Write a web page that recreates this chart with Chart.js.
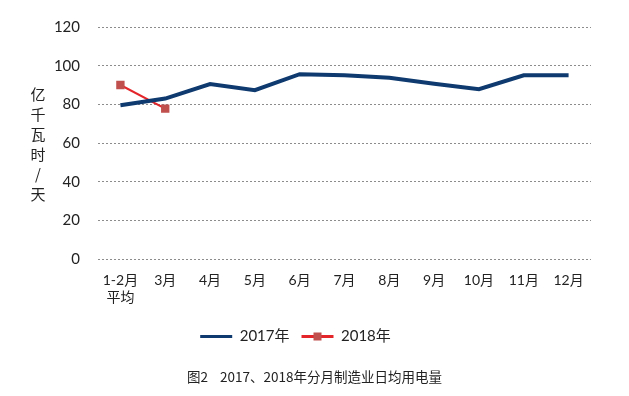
<!DOCTYPE html>
<html>
<head>
<meta charset="utf-8">
<script src="https://cdn.jsdelivr.net/npm/chart.js@4"></script>
<style>
    body { margin: 0; background: #fff; }
    #wrap { position: relative; width: 629px; height: 396px; }
    #caption {
        position: absolute; left: 0; width: 629px; top: 366px;
        text-align: center; font: 13.5px 'Noto Sans CJK SC', sans-serif; color: #222;
    }
</style>
</head>
<body>
<div id="wrap">
    <canvas id="powerChart" width="629" height="396"></canvas>
    <div id="caption">图2&nbsp;&nbsp;&nbsp;&nbsp;2017、2018年分月制造业日均用电量</div>
</div>
<script>
const months = [['1-2月', '平均'], '3月', '4月', '5月', '6月', '7月', '8月', '9月', '10月', '11月', '12月'];
const power2017 = [79.5, 83, 90.5, 87.3, 95.6, 95, 93.7, 90.6, 87.8, 95, 95];
const power2018 = [90, 77.8];
const yTicks = [0, 20, 40, 60, 80, 100, 120];
const yTitle = '亿千瓦时/天';

const fontFamily = "Lato, 'Noto Sans CJK SC', sans-serif";

document.addEventListener('DOMContentLoaded', function() {
    // stacked vertical axis title + square marker in the legend
    const extras = {
        id: 'extras',
        afterDraw(chart) {
            const ctx = chart.ctx;
            ctx.save();
            ctx.fillStyle = '#222';
            ctx.font = "15px 'Noto Sans CJK SC'";
            ctx.textAlign = 'center';
            ctx.textBaseline = 'middle';
            Array.from(yTitle).forEach(function(ch, i) {
                ctx.fillText(ch, 38, 94 + i * 20);
            });
            const box = chart.legend.legendHitBoxes[1];
            if (box) {
                const cx = box.left + 16;
                const cy = box.top + box.height / 2;
                ctx.fillStyle = '#c0504d';
                ctx.fillRect(cx - 4, cy - 4, 8, 8);
            }
            ctx.restore();
        }
    };

    const ctx = document.getElementById('powerChart').getContext('2d');
    new Chart(ctx, {
        type: 'line',
        data: {
            labels: months,
            datasets: [{
                label: '2017年',
                data: power2017,
                borderColor: '#0e3a6f',
                backgroundColor: '#0e3a6f',
                borderWidth: 4,
                pointRadius: 0,
                tension: 0
            }, {
                label: '2018年',
                data: power2018,
                borderColor: '#e4262b',
                backgroundColor: '#e4262b',
                borderWidth: 2,
                pointStyle: 'rect',
                pointRadius: 4.5,
                pointBackgroundColor: '#c0504d',
                pointBorderColor: '#c0504d',
                tension: 0
            }]
        },
        options: {
            responsive: false,
            animation: false,
            layout: { padding: { left: 0, right: 38, top: 24, bottom: 42 } },
            plugins: {
                legend: {
                    position: 'bottom',
                    labels: {
                        boxWidth: 32,
                        boxHeight: 3,
                        padding: 12,
                        color: '#222',
                        font: { family: fontFamily, size: 15 },
                        generateLabels: function(chart) {
                            const items = Chart.defaults.plugins.legend.labels.generateLabels(chart);
                            items.forEach(function(item) { item.lineWidth = 0; });
                            return items;
                        }
                    }
                },
                tooltip: { enabled: false }
            },
            scales: {
                x: {
                    offset: true,
                    afterFit: function(scale) { scale.height = 58; },
                    grid: { display: false, drawTicks: false },
                    border: { display: false },
                    ticks: {
                        padding: 13,
                        maxRotation: 0,
                        color: '#222',
                        font: { family: fontFamily, size: 14 }
                    }
                },
                y: {
                    min: 0,
                    max: 120,
                    afterFit: function(scale) { scale.width = 98; },
                    afterBuildTicks: function(scale) {
                        scale.ticks = yTicks.map(function(v) { return { value: v }; });
                    },
                    grid: { color: '#8c8c8c', drawTicks: false },
                    border: { display: false, dash: [2, 2] },
                    ticks: {
                        padding: 18,
                        color: '#222',
                        font: { family: fontFamily, size: 15 }
                    }
                }
            }
        },
        plugins: [extras]
    });
});
</script>
</body>
</html>
